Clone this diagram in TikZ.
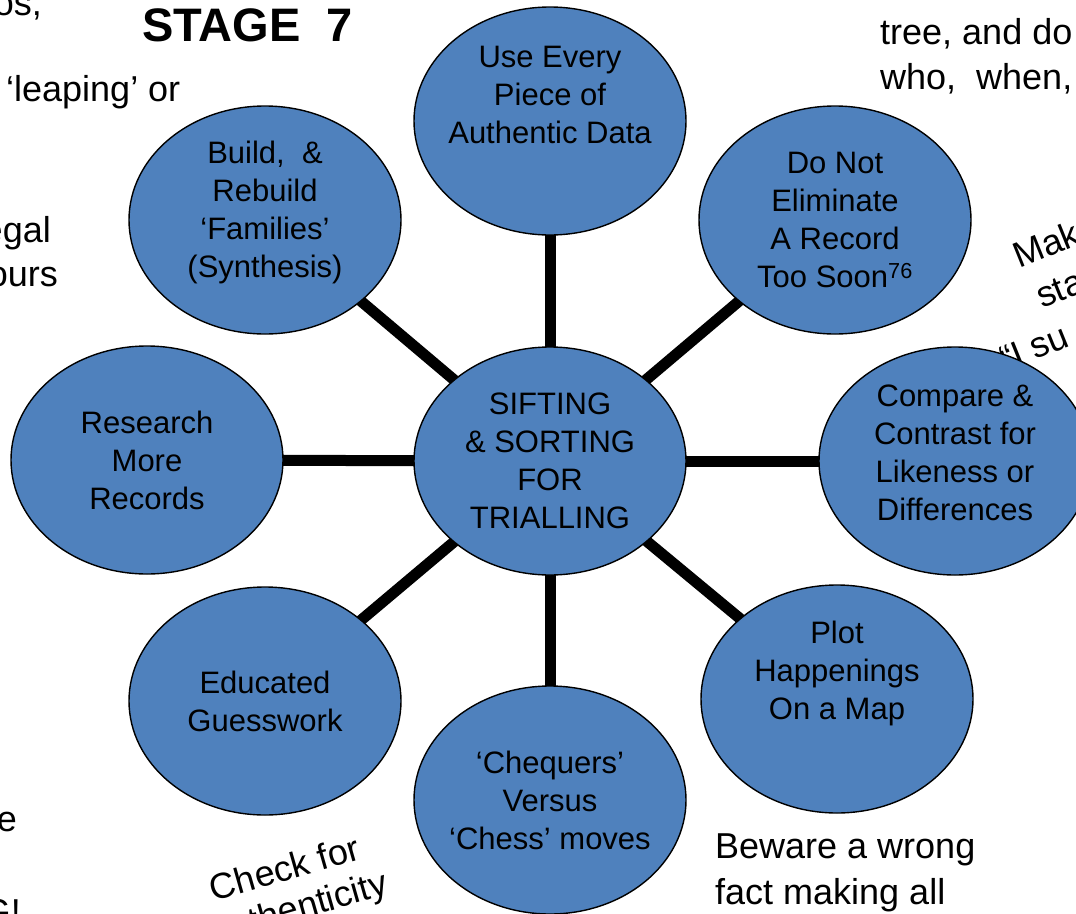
\documentclass[tikz,border=0pt]{standalone}
\usepackage{fontspec}
\setmainfont{Liberation Sans}
\usetikzlibrary{shapes.geometric,backgrounds}
\definecolor{bubbleblue}{RGB}{79,129,189}
\tikzset{
	bubble/.style={ellipse, draw=black, line width=1.4pt, fill=bubbleblue, minimum width=272pt, minimum height=228pt, inner sep=0pt, outer sep=0pt},
	bubbletext/.style={align=center, inner sep=0pt, font=\fontsize{31}{38}\selectfont},
	spoke/.style={line width=11pt, color=black},
	slidetext/.style={inner sep=0pt, font=\fontsize{36}{44}\selectfont},
}

\begin{document}
\begin{tikzpicture}[x=1pt, y=-1pt]
			%%%%% START %%%%%
			\useasboundingbox (0,0) rectangle (1076,913);
			\clip (0,0) rectangle (1076,913);
			
			% slide text round the picture
			\node[slidetext, anchor=base east] (os) at (42, 15) {os,};
			\node[inner sep=0pt, anchor=base west, font=\bfseries\fontsize{47}{56}\selectfont] (stage) at (142, 41) {STAGE\ \ 7};
			\node[slidetext, anchor=base west] (leaping) at (6, 101) {‘leaping’ or};
			\node[slidetext, anchor=base east] (egal) at (51, 242) {egal};
			\node[slidetext, anchor=base east] (ours) at (58, 286) {ours};
			\node[slidetext, anchor=base east] (e) at (17, 831) {e};
			\node[slidetext, anchor=base east] (gee) at (21, 924) {G!};
			\node[slidetext, anchor=base west] (tree) at (880, 44) {tree, and do};
			\node[slidetext, anchor=base west] (who) at (880, 89) {who,\ \ when,};
			\node[slidetext, anchor=base west] (beware) at (715, 858) {Beware a wrong};
			\node[slidetext, anchor=base west] (fact) at (715, 904) {fact making all};
			\node[slidetext, anchor=base, rotate=16] (check) at (288, 880) {Check for};
			\node[slidetext, anchor=base, rotate=16] (authentic) at (302, 919) {authenticity};
			\node[slidetext, anchor=base west, rotate=22] (make) at (1019, 269) {Mak};
			\node[slidetext, anchor=base west, rotate=22] (sta) at (1042, 309) {sta};
			\node[slidetext, anchor=base west, rotate=22] (isu) at (1006, 372) {“I su};
			
			% the bubbles
			\node[bubble, label={[bubbletext]center:{SIFTING\\\& SORTING\\FOR\\TRIALLING}}] (hub) at (550, 461) {};
			\node[bubble, label={[bubbletext, yshift=26pt]center:{Use Every\\Piece of\\Authentic Data}}] (data) at (550, 121) {};
			\node[bubble, label={[bubbletext]center:{Do Not\\Eliminate\\A Record\\Too Soon\textsuperscript{76}}}] (keep) at (835, 220) {};
			\node[bubble, label={[bubbletext, yshift=8pt]center:{Compare \&\\Contrast for\\Likeness or\\Differences}}] (compare) at (955, 461) {};
			\node[bubble, label={[bubbletext, yshift=26pt]center:{Plot\\Happenings\\On a Map}}] (plot) at (837, 699) {};
			\node[bubble, label={[bubbletext]center:{‘Chequers’\\Versus\\‘Chess’ moves}}] (moves) at (550, 800) {};
			\node[bubble, label={[bubbletext]center:{Educated\\Guesswork}}] (guess) at (265, 701) {};
			\node[bubble, label={[bubbletext]center:{Research\\More\\Records}}] (research) at (147, 460) {};
			\node[bubble, label={[bubbletext, yshift=8pt]center:{Build,\ \ \&\\Rebuild\\‘Families’\\(Synthesis)}}] (build) at (265, 220) {};
			
			% spokes behind the bubbles
			\begin{pgfonlayer}{background}
				\foreach \n in {data,keep,compare,plot,moves,guess,research,build}
					\draw[spoke] (hub.center) -- (\n.center);
			\end{pgfonlayer}
			
			%%%%% END %%%%%
\end{tikzpicture}
\end{document}
